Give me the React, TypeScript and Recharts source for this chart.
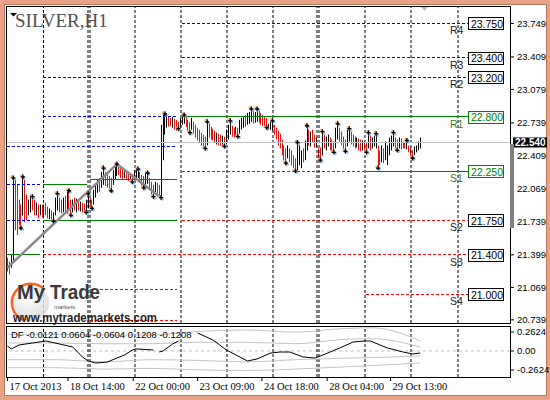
import { ComposedChart, Bar, Line, Scatter, XAxis, YAxis, ReferenceLine } from "recharts";

// SILVER H1 bars: high / low per hour, 1 = up bar (black), 0 = down bar (red)
const highs = [
  21.37, 21.33, 21.4, 22.18, 22.16, 22.11, 21.96, 21.91, 22.19, 22.16,
  22.01, 21.96, 22.01, 21.99, 21.96, 21.93, 21.91, 21.91, 21.91, 21.91,
  21.93, 21.89, 21.87, 21.85, 21.83, 21.98, 22.02, 21.98, 21.96, 21.98,
  22.0, 22.04, 22.05, 21.96, 21.96, 21.98, 21.97, 21.96, 21.94, 21.93,
  21.92, 21.96, 22.02, 21.98, 21.96, 22.06, 22.11, 22.16, 22.18, 22.24,
  22.28, 22.24, 22.21, 22.2, 22.18, 22.26, 22.3, 22.32, 22.3, 22.28,
  22.26, 22.27, 22.25, 22.24, 22.23, 22.22, 22.26, 22.26, 22.27, 22.24,
  22.21, 22.2, 22.24, 22.23, 22.18, 22.14, 22.11, 22.14, 22.13, 22.11,
  22.72, 22.82, 22.83, 22.83, 22.81, 22.79, 22.8, 22.78, 22.77, 22.75,
  22.79, 22.81, 22.82, 22.8, 22.77, 22.75, 22.79, 22.75, 22.72, 22.69,
  22.67, 22.64, 22.62, 22.6, 22.75, 22.73, 22.7, 22.68, 22.66, 22.64,
  22.63, 22.62, 22.61, 22.6, 22.67, 22.72, 22.76, 22.71, 22.69, 22.7,
  22.69, 22.77, 22.79, 22.8, 22.82, 22.84, 22.85, 22.88, 22.86, 22.85,
  22.88, 22.86, 22.84, 22.82, 22.8, 22.79, 22.73, 22.75, 22.76, 22.72,
  22.69, 22.66, 22.63, 22.57, 22.51, 22.48, 22.51, 22.48, 22.46, 22.41,
  22.38, 22.54, 22.51, 22.46, 22.48, 22.56, 22.71, 22.67, 22.65, 22.67,
  22.62, 22.59, 22.48, 22.49, 22.65, 22.62, 22.6, 22.62, 22.59, 22.57,
  22.55, 22.69, 22.73, 22.69, 22.65, 22.6, 22.57, 22.67, 22.68, 22.65,
  22.62, 22.6, 22.59, 22.58, 22.57, 22.56, 22.55, 22.54, 22.64, 22.61,
  22.59, 22.61, 22.63, 22.51, 22.46, 22.51, 22.48, 22.55, 22.51, 22.59,
  22.61, 22.64, 22.59, 22.57, 22.59, 22.58, 22.55, 22.54, 22.56, 22.51,
  22.49, 22.46, 22.5, 22.51, 22.55, 22.59,
];
const lows = [
  21.23, 21.2, 21.27, 21.33, 21.65, 21.6, 21.7, 21.67, 21.8, 21.73,
  21.75, 21.8, 21.83, 21.85, 21.8, 21.8, 21.77, 21.8, 21.78, 21.77,
  21.8, 21.77, 21.76, 21.75, 21.74, 21.8, 21.85, 21.83, 21.82, 21.83,
  21.81, 21.82, 21.85, 21.8, 21.83, 21.85, 21.83, 21.85, 21.84, 21.83,
  21.83, 21.83, 21.87, 21.87, 21.87, 21.91, 21.98, 22.03, 22.04, 22.08,
  22.11, 22.1, 22.08, 22.07, 22.05, 22.11, 22.16, 22.2, 22.21, 22.18,
  22.17, 22.18, 22.16, 22.15, 22.16, 22.14, 22.16, 22.16, 22.18, 22.13,
  22.1, 22.08, 22.11, 22.12, 22.06, 22.01, 21.99, 22.03, 22.01, 22.0,
  21.98, 22.36, 22.62, 22.69, 22.7, 22.71, 22.69, 22.67, 22.66, 22.68,
  22.69, 22.72, 22.73, 22.7, 22.66, 22.64, 22.67, 22.63, 22.59, 22.56,
  22.54, 22.51, 22.49, 22.48, 22.51, 22.59, 22.57, 22.56, 22.54, 22.52,
  22.51, 22.51, 22.5, 22.5, 22.52, 22.57, 22.62, 22.6, 22.59, 22.6,
  22.6, 22.63, 22.67, 22.69, 22.7, 22.72, 22.73, 22.75, 22.73, 22.74,
  22.75, 22.74, 22.72, 22.71, 22.7, 22.69, 22.67, 22.67, 22.66, 22.62,
  22.57, 22.51, 22.48, 22.41, 22.36, 22.33, 22.38, 22.34, 22.31, 22.28,
  22.25, 22.26, 22.31, 22.28, 22.34, 22.36, 22.46, 22.51, 22.5, 22.54,
  22.49, 22.49, 22.38, 22.36, 22.41, 22.48, 22.46, 22.5, 22.46, 22.44,
  22.44, 22.48, 22.57, 22.55, 22.51, 22.47, 22.45, 22.5, 22.55, 22.52,
  22.5, 22.48, 22.49, 22.46, 22.45, 22.46, 22.44, 22.44, 22.48, 22.46,
  22.48, 22.5, 22.48, 22.28, 22.31, 22.34, 22.33, 22.36, 22.31, 22.41,
  22.46, 22.5, 22.48, 22.46, 22.48, 22.47, 22.48, 22.48, 22.47, 22.44,
  22.41, 22.38, 22.41, 22.44, 22.46, 22.48,
];
const upBars = [
  0, 0, 1, 1, 0, 0, 0, 0, 1, 0, 0, 1, 1, 0, 0, 1, 0, 1, 0, 1,
  0, 0, 1, 0, 1, 1, 1, 0, 0, 1, 0, 1, 0, 0, 1, 0, 1, 0, 1, 0,
  0, 1, 1, 0, 0, 1, 1, 1, 0, 1, 1, 0, 0, 0, 0, 1, 1, 1, 0, 0,
  0, 1, 0, 0, 1, 0, 1, 1, 1, 0, 0, 0, 1, 1, 0, 0, 0, 1, 0, 0,
  1, 1, 1, 1, 0, 0, 1, 0, 0, 0, 1, 1, 1, 0, 0, 0, 1, 0, 0, 0,
  0, 0, 0, 0, 1, 0, 0, 0, 0, 1, 0, 0, 1, 0, 1, 1, 1, 0, 0, 1,
  0, 1, 1, 1, 0, 1, 1, 1, 0, 1, 1, 0, 0, 0, 0, 0, 1, 1, 1, 0,
  0, 0, 0, 0, 0, 0, 1, 0, 0, 0, 0, 1, 1, 1, 0, 1, 1, 0, 1, 0,
  0, 1, 0, 0, 1, 0, 1, 1, 0, 0, 0, 1, 1, 0, 0, 0, 0, 1, 1, 0,
  0, 0, 1, 0, 0, 1, 0, 0, 1, 0, 1, 1, 1, 0, 0, 1, 0, 1, 1, 1,
  1, 1, 0, 0, 1, 0, 0, 0, 1, 0, 0, 0, 1, 1, 1, 1,
];

// fractal markers (bar numbers)
const fractalUp = [3, 8, 13, 26, 32, 42, 50, 57, 68, 73, 82, 92, 104, 116, 127, 130, 138, 151, 156, 164, 172, 178, 188, 192, 201, 208];
const fractalDown = [7, 24, 33, 41, 44, 54, 65, 71, 76, 80, 89, 95, 103, 113, 120, 135, 145, 150, 163, 170, 176, 187, 193, 203, 211];

// grey trend line
const trendIdx = [0, 57, 80];
const trendPrice = [21.27, 22.32, 21.98];

// daily pivot levels: res = above (blue), piv = nearest (green), sup = below (red)
const levels = [
  { from: 90.9, to: 239.8, price: 23.75, kind: "res" },
  { from: 90.9, to: 239.8, price: 23.4, kind: "res" },
  { from: 18.5, to: 239.8, price: 23.2, kind: "res" },
  { from: 18.5, to: 88.3, price: 22.8, kind: "res" },
  { from: 90.9, to: 239.8, price: 22.8, kind: "piv" },
  { from: -0.3, to: 88.3, price: 22.5, kind: "res" },
  { from: 90.9, to: 185.7, price: 22.25, kind: "sup" },
  { from: 186.7, to: 239.8, price: 22.25, kind: "piv" },
  { from: -0.3, to: 18.2, price: 22.11, kind: "res" },
  { from: 18.5, to: 41.3, price: 22.11, kind: "piv" },
  { from: 43, to: 88.3, price: 22.16, kind: "piv" },
  { from: -0.3, to: 18.2, price: 21.75, kind: "res" },
  { from: 18.5, to: 88.3, price: 21.75, kind: "piv" },
  { from: 90.9, to: 239.8, price: 21.75, kind: "sup" },
  { from: -0.3, to: 17, price: 21.4, kind: "piv" },
  { from: 18.5, to: 239.8, price: 21.4, kind: "sup" },
  { from: 43, to: 88.3, price: 21.05, kind: "sup" },
  { from: 186.7, to: 239.8, price: 21.0, kind: "sup" },
  { from: 43, to: 88.3, price: 20.73, kind: "sup" },
];
const tagIdx = 239.8;
const levelTags = [
  { name: "R4", price: 23.75, kind: "res" },
  { name: "R3", price: 23.4, kind: "res" },
  { name: "R2", price: 23.2, kind: "res" },
  { name: "R1", price: 22.8, kind: "piv" },
  { name: "S1", price: 22.25, kind: "piv" },
  { name: "S2", price: 21.75, kind: "sup" },
  { name: "S3", price: 21.4, kind: "sup" },
  { name: "S4", price: 21.0, kind: "sup" },
];

const priceTicks = [23.749, 23.409, 23.079, 22.739, 22.409, 22.069, 21.739, 21.399, 21.069, 20.739];
const bid = 22.54;

const separators = [18.75, 41.93, 42.97, 66.41, 90.36, 114.32, 138.28, 161.2, 162.24, 186.2, 210.16, 234.64];
const timeTicks = [0, 31.5, 65.5, 99, 132.5, 166.5, 199.5];
const timeLabels = ["17 Oct 2013", "18 Oct 14:00", "22 Oct 00:00", "23 Oct 09:00", "24 Oct 18:00", "28 Oct 04:00", "29 Oct 13:00"];

// DF oscillator
const dfLegend = "DF -0.0121 0.0604 -0.0604 0.1208 -0.1208";
const dfIdx = [0, 2, 6, 13, 20, 27, 34, 39, 42, 46, 52, 57, 61, 65, 67, 76, 77.5, 79, 81, 86, 89, 94, 99, 107, 114, 125, 130, 137, 142, 147, 154, 160, 163, 168, 173, 180, 186, 189, 194, 198, 206, 211, 215];
const dfVal = [0.069, 0.028, 0.083, 0.11, 0.138, 0.097, 0.055, -0.083, -0.138, -0.166, -0.152, -0.097, -0.055, 0.014, 0.028, 0.014, null, -0.014, 0.0, 0.097, 0.138, null, 0.249, 0.152, 0.014, -0.138, -0.11, -0.028, -0.014, -0.014, -0.083, -0.097, -0.069, -0.014, 0.041, 0.124, 0.138, 0.138, 0.083, 0.041, -0.014, -0.041, -0.028];
const bandIdx = [0, 25, 50, 75, 99, 125, 150, 175, 190, 215];
const bandU2 = [0.23, 0.23, 0.22, 0.22, 0.27, 0.29, 0.26, 0.31, 0.32, 0.14];
const bandU1 = [0.11, 0.11, 0.1, 0.1, 0.12, 0.12, 0.1, 0.16, 0.17, 0.055];
const bandL1 = [-0.12, -0.12, -0.15, -0.12, -0.13, -0.15, -0.12, -0.1, -0.09, -0.07];
const bandL2 = [-0.23, -0.23, -0.25, -0.24, -0.26, -0.27, -0.25, -0.22, -0.2, -0.166];
const dfTicks = [0.2624, 0, -0.2624];

const bars = highs.map((h, i) => ({ i, range: [lows[i], h], up: upBars[i] }));
const upPts = fractalUp.map((i) => ({ i, p: highs[i] }));
const downPts = fractalDown.map((i) => ({ i, p: lows[i] }));
const trend = trendIdx.map((i, k) => ({ i, v: trendPrice[k] }));
const tags = levelTags.map((t) => ({ ...t, i: tagIdx, p: t.price }));
const df = dfIdx.map((i, k) => ({ i, v: dfVal[k] }));
const bands = bandIdx.map((i, k) => ({ i, u2: bandU2[k], u1: bandU1[k], l1: bandL1[k], l2: bandL2[k] }));

const X_DOMAIN = [-0.78125, 261.71875];
const SANS = "Liberation Sans, Arial, sans-serif";
const SERIF = "Liberation Serif, Times New Roman, serif";
const RED = "#ee1111";
const levelStyle: any = {
  res: { stroke: "#0000ff", dash: "3 2" },
  piv: { stroke: "#008000", dash: undefined },
  sup: { stroke: "#ff0000", dash: "3 2" },
};

const HLBar = (props: any) => {
  const { x, y, width, height, payload } = props;
  if (x == null || y == null) return null;
  const top = Math.min(y, y + height);
  const h = Math.max(1, Math.abs(height));
  return <rect x={Math.floor(x + width / 2)} y={top} width={1} height={h} fill={payload.up ? "#000" : RED} />;
};

const Fractal = (props: any) => {
  const { cx, cy } = props;
  return (
    <g>
      <circle cx={cx - 1} cy={cy - 1} r={2} fill="#f7a35c" opacity={0.7} />
      <circle cx={cx + 1} cy={cy + 1} r={2} fill="#6fa8e8" opacity={0.7} />
      <path d={`M${cx - 2},${cy}H${cx + 2}M${cx},${cy - 2.5}V${cy + 2}`} stroke="#000" strokeWidth={1.3} />
    </g>
  );
};

const LevelTag = (props: any) => {
  const { cx, cy, payload } = props;
  const green = payload.kind === "piv";
  const c = green ? "#008000" : "#000";
  return (
    <g>
      <rect x={Math.round(cx) + 0.5} y={Math.round(cy) - 5.5} width={35} height={12} fill="#fff" stroke={c} />
      <text x={cx + 3} y={cy + 4.5} fontSize={10.5} fontFamily={SANS} fill={c}>
        {payload.price.toFixed(3)}
      </text>
      <text x={cx - 18} y={cy + 11} fontSize={10.5} fontFamily={SANS} fill={green ? "#3d7a1c" : "#222"}>
        {payload.name}
      </text>
    </g>
  );
};

const BidTag = (props: any) => {
  const { x, y, width } = props.viewBox;
  return (
    <g>
      <rect x={x + width + 3} y={y - 5} width={34} height={10} fill="#000" />
      <text x={x + width + 5} y={y + 4} fontSize={10} fontWeight="bold" fontFamily={SANS} fill="#fff">
        {bid.toFixed(3)}
      </text>
    </g>
  );
};

const TimeTick = (props: any) => {
  const { x, y, payload } = props;
  const k = timeTicks.indexOf(payload.value);
  return (
    <text x={x + 2} y={y} dy="0.71em" textAnchor="start" fontSize={10.5} fontFamily={SERIF} fill="#000">
      {timeLabels[k]}
    </text>
  );
};

const App = () => {
  return (
    <div style={{ position: "absolute", left: 0, top: 0, width: 550, height: 400, background: "#e8a286" }}>
      <div style={{ position: "absolute", left: 4, top: 4, width: 541, height: 390, background: "#fff", border: "1px solid #bf7358" }} />

      {/* main price panel */}
      <div style={{ position: "absolute", left: 0, top: 0 }}>
        <ComposedChart width={550} height={330} data={bars} margin={{ top: 6, right: 0, bottom: 7, left: 6 }}>
          <XAxis type="number" dataKey="i" domain={X_DOMAIN} hide allowDataOverflow />
          <YAxis
            orientation="right"
            type="number"
            domain={[20.707, 23.926]}
            ticks={priceTicks}
            interval={0}
            tickFormatter={(v: number) => v.toFixed(3)}
            width={40}
            tickSize={4}
            tickMargin={3}
            axisLine={false}
            tickLine={{ stroke: "#000" }}
            tick={{ fontSize: 9.5, fill: "#000", fontFamily: SANS }}
            allowDataOverflow
          />
          {separators.map((s) => (
            <ReferenceLine key={"s" + s} x={s} stroke="#000" strokeDasharray="3 2" />
          ))}
          {levels.map((l, k) => (
            <Line
              key={"l" + k}
              data={[
                { i: l.from, v: l.price },
                { i: l.to, v: l.price },
              ]}
              dataKey="v"
              stroke={levelStyle[l.kind].stroke}
              strokeDasharray={levelStyle[l.kind].dash}
              strokeWidth={1}
              shapeRendering="crispEdges"
              dot={false}
              activeDot={false}
              isAnimationActive={false}
            />
          ))}
          <ReferenceLine y={bid} stroke="#c0c0c0" shapeRendering="crispEdges" label={<BidTag />} />
          <Line data={trend} dataKey="v" stroke="#8a8a8a" strokeWidth={2.5} dot={false} activeDot={false} isAnimationActive={false} />
          <Bar dataKey="range" barSize={1} shape={<HLBar />} isAnimationActive={false} />
          <Scatter data={upPts} dataKey="p" shape={<Fractal />} isAnimationActive={false} />
          <Scatter data={downPts} dataKey="p" shape={<Fractal />} isAnimationActive={false} />
          <Scatter data={tags} dataKey="p" shape={<LevelTag />} isAnimationActive={false} />
        </ComposedChart>
      </div>

      {/* DF oscillator panel */}
      <div style={{ position: "absolute", left: 0, top: 320 }}>
        <ComposedChart width={550} height={80} data={bands} margin={{ top: 6, right: 0, bottom: 0, left: 6 }}>
          <XAxis
            type="number"
            dataKey="i"
            domain={X_DOMAIN}
            ticks={timeTicks}
            interval={0}
            tick={<TimeTick />}
            tickSize={4}
            axisLine={false}
            tickLine={{ stroke: "#000" }}
            height={23}
            allowDataOverflow
          />
          <YAxis
            orientation="right"
            type="number"
            domain={[-0.359, 0.345]}
            ticks={dfTicks}
            interval={0}
            tickFormatter={(v: number) => (v === 0 ? "0.00" : v.toFixed(4))}
            width={40}
            tickSize={4}
            tickMargin={3}
            axisLine={false}
            tickLine={{ stroke: "#000" }}
            tick={{ fontSize: 9.5, fill: "#000", fontFamily: SANS }}
            allowDataOverflow
          />
          <ReferenceLine y={0} stroke="#c0c0c0" strokeDasharray="3 3" />
          {separators.map((s) => (
            <ReferenceLine key={"d" + s} x={s} stroke="#000" strokeDasharray="3 2" />
          ))}
          {["u2", "u1", "l1", "l2"].map((k) => (
            <Line key={k} dataKey={k} type="monotone" stroke="#c4c4c4" strokeWidth={1} dot={false} activeDot={false} isAnimationActive={false} />
          ))}
          <Line data={df} dataKey="v" stroke="#000" strokeWidth={1} dot={false} activeDot={false} connectNulls={false} isAnimationActive={false} />
        </ComposedChart>
      </div>

      {/* panel frames, title, logo */}
      <svg width={550} height={400} style={{ position: "absolute", left: 0, top: 0, pointerEvents: "none" }}>
        <defs>
          <radialGradient id="ball" cx="40%" cy="35%" r="70%">
            <stop offset="0%" stopColor="#ffffff" />
            <stop offset="100%" stopColor="#d6d6d6" />
          </radialGradient>
        </defs>
        <rect x={6.5} y={6.5} width={504} height={317} fill="none" stroke="#000" />
        <rect x={6.5} y={326.5} width={504} height={51} fill="none" stroke="#000" />
        <rect x={510} y={144} width={4} height={84} fill="#808080" />
        <polygon points="10,13 17,13 13.5,16.5" fill="#000" />
        <polygon points="421,7 428,7 424.5,10.5" fill="#b8b8b8" />
        <text x={15} y={27} fontSize={19} fontFamily={SERIF} fill="#505050">SILVER,H1</text>
        <text x={11} y={338} fontSize={9.5} fontFamily={SANS} fill="#000">{dfLegend}</text>

        <circle cx={31} cy={303} r={18} fill="url(#ball)" opacity={0.85} />
        <path d="M 23 320 A 19 19 0 1 1 45 290" fill="none" stroke="#f26522" strokeWidth={2.5} />
        <text x={17} y={299} fontSize={21} fontWeight="bold" fontFamily={SANS} fill="#3a3a3a" textLength={28} lengthAdjust="spacingAndGlyphs">My</text>
        <text x={50} y={299} fontSize={21} fontWeight="bold" fontFamily={SANS} fill="#3a3a3a" textLength={50} lengthAdjust="spacingAndGlyphs">Trade</text>
        <text x={54} y={309} fontSize={6} fontFamily={SANS} fill="#555">markets</text>
        <text x={13} y={321.5} fontSize={12} fontWeight="bold" fontFamily={SANS} fill="#1e1e1e" textLength={144} lengthAdjust="spacingAndGlyphs">www.mytrademarkets.com</text>
      </svg>
    </div>
  );
};

export default App;
